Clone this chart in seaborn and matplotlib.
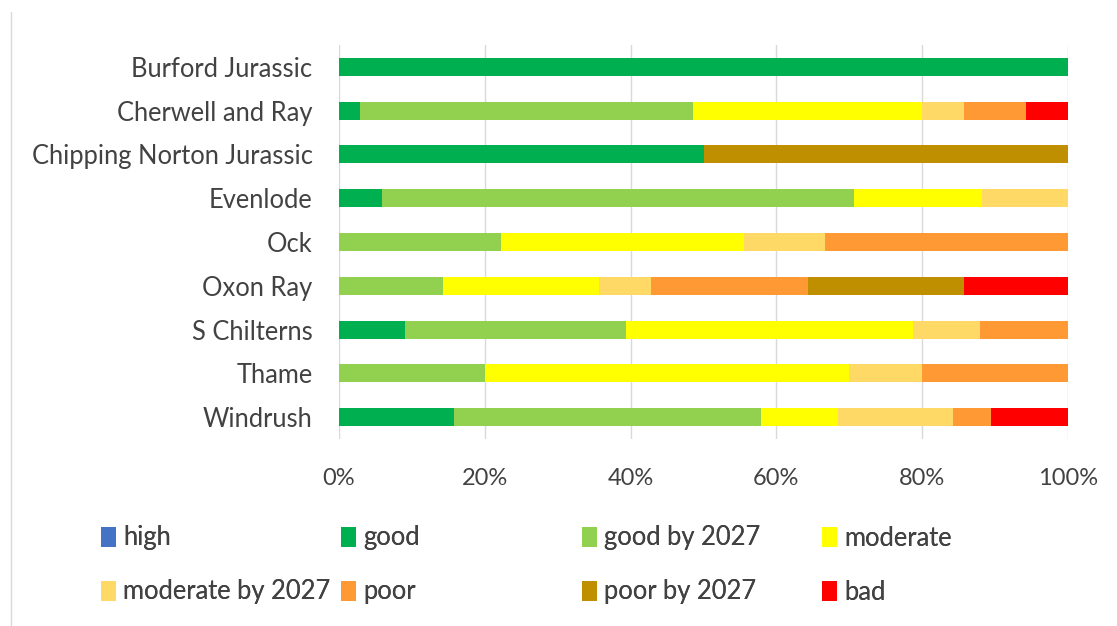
import matplotlib
matplotlib.use("Agg")
import matplotlib.pyplot as plt
from matplotlib.patches import Patch
from matplotlib.lines import Line2D
import seaborn as sns
import pandas as pd
import numpy as np

# ---- data (number of water bodies per status class) ----
catchments = ["Burford Jurassic", "Cherwell and Ray", "Chipping Norton Jurassic",
              "Evenlode", "Ock", "Oxon Ray", "S Chilterns", "Thame", "Windrush"]
statuses = ["high", "good", "good by 2027", "moderate",
            "moderate by 2027", "poor", "poor by 2027", "bad"]
high = [0, 0, 0, 0, 0, 0, 0, 0, 0]
good = [1, 1, 1, 1, 0, 0, 3, 0, 3]
good_by_2027 = [0, 16, 0, 11, 2, 2, 10, 2, 8]
moderate = [0, 11, 0, 3, 3, 3, 13, 5, 2]
moderate_by_2027 = [0, 2, 0, 2, 1, 1, 3, 1, 3]
poor = [0, 3, 0, 0, 3, 3, 4, 2, 1]
poor_by_2027 = [0, 0, 1, 0, 0, 3, 0, 0, 0]
bad = [0, 2, 0, 0, 0, 2, 0, 0, 2]
colors = ["#4472C4", "#00B050", "#92D050", "#FFFF00",
          "#FFD966", "#FF9933", "#BF8F00", "#FF0000"]

series = [high, good, good_by_2027, moderate, moderate_by_2027, poor, poor_by_2027, bad]
counts = np.array(series, dtype=float)
pct = counts / counts.sum(axis=0) * 100
cum = np.cumsum(pct, axis=0)

df = pd.DataFrame({"catchment": catchments})
for i, s in enumerate(statuses):
    df[s] = cum[i]

W, H = 1117, 626
fig = plt.figure(figsize=(W / 100, H / 100), dpi=100)
sns.set_style("white")
plt.rcParams["font.family"] = ["Lato", "DejaVu Sans"]
text_color = "#424242"
FS = 18.4

ax = fig.add_axes([339 / W, 1 - 439 / H, (1068 - 339) / W, (439 - 45) / H])

for i in range(len(statuses) - 1, -1, -1):
    sns.barplot(data=df, y="catchment", x=statuses[i], color=colors[i],
                orient="h", width=0.41, saturation=1, linewidth=0,
                order=catchments, ax=ax, zorder=3)

ax.set_xlim(0, 100)
ax.set_ylim(8.5, -0.5)
ax.set_xticks([0, 20, 40, 60, 80, 100])
ax.set_xticklabels([f"{v}%" for v in [0, 20, 40, 60, 80, 100]])
ax.set_xlabel("")
ax.set_ylabel("")
ax.grid(axis="x", color="#D9D9D9", linewidth=1, zorder=0)
ax.grid(axis="y", visible=False)
for sp in ax.spines.values():
    sp.set_visible(False)
ax.tick_params(axis="x", length=0, pad=21, labelsize=17, labelcolor=text_color)
ax.tick_params(axis="y", length=0, pad=19, labelsize=FS, labelcolor=text_color)

# legend: one entry per slot, Excel-like equal columns
xs = [101, 341, 582, 822]
ys = [538, 592]
for k, (s, c) in enumerate(zip(statuses, colors)):
    col = k % 4
    row = k // 4
    leg = fig.legend(handles=[Patch(facecolor=c, edgecolor="none", label=s)],
                     loc="center left",
                     bbox_to_anchor=(xs[col] / W, 1 - ys[row] / H),
                     frameon=False, borderpad=0, borderaxespad=0,
                     handlelength=0.6, handleheight=0.83, handletextpad=0.27,
                     fontsize=FS, labelcolor=text_color)
    fig.add_artist(leg)

# chart-area border fragment at the left
fig.add_artist(Line2D([11 / W, 11 / W], [1 - 12 / H, 0], transform=fig.transFigure,
                      color="#D9D9D9", linewidth=1))

fig.savefig("out.png", dpi=100)
